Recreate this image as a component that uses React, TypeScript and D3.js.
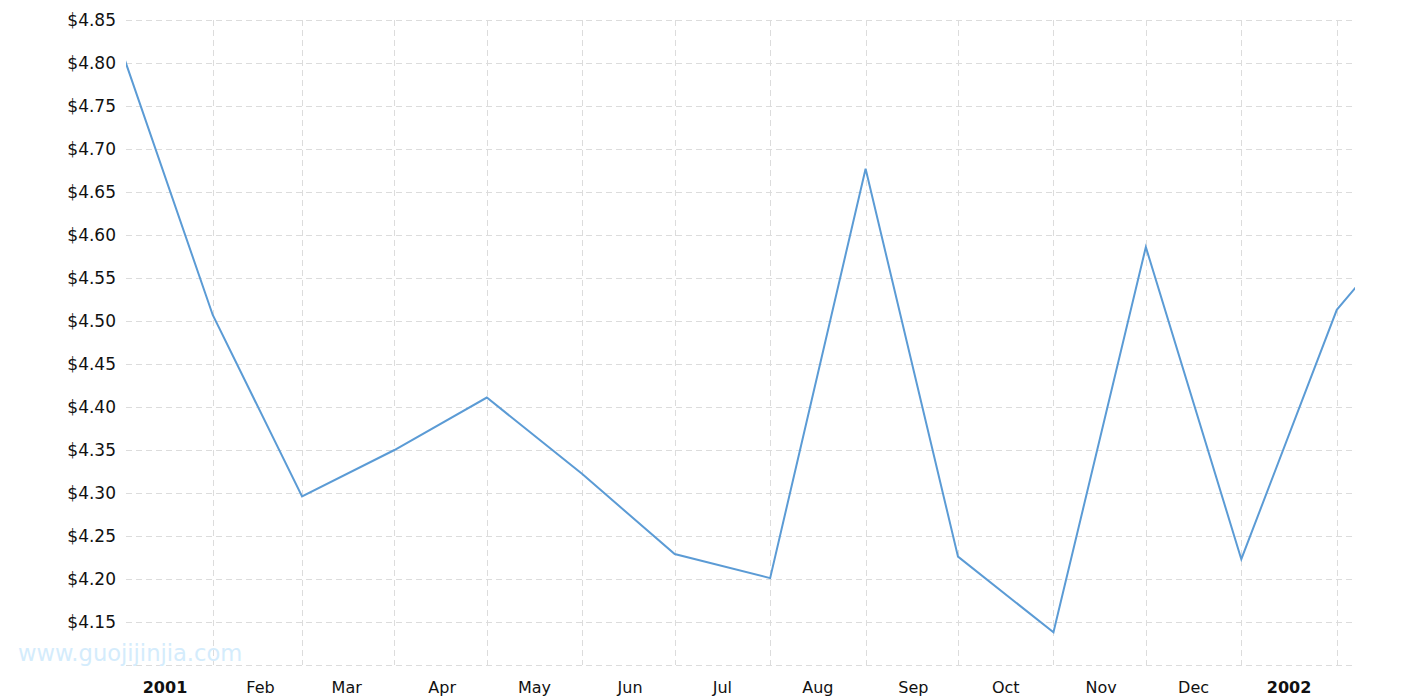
import React from "react";
import * as d3 from "d3";

// monthly prices, plotted at mid-month
const dates = [
  "2000-12-16 12", "2001-01-16 12", "2001-02-14 12", "2001-03-16 12", "2001-04-15 12",
  "2001-05-16 12", "2001-06-15 12", "2001-07-16 12", "2001-08-16 12", "2001-09-15 12",
  "2001-10-16 12", "2001-11-15 12", "2001-12-16 12", "2002-01-16 12", "2002-02-15 12",
];
const prices = [
  4.829, 4.507, 4.296, 4.35, 4.411, 4.322, 4.229, 4.201, 4.677, 4.226,
  4.138, 4.586, 4.223, 4.513, 4.64,
];
const yTicks = [4.1, 4.15, 4.2, 4.25, 4.3, 4.35, 4.4, 4.45, 4.5, 4.55, 4.6, 4.65, 4.7, 4.75, 4.8, 4.85];
const monthNames = ["", "Feb", "Mar", "Apr", "May", "Jun", "Jul", "Aug", "Sep", "Oct", "Nov", "Dec"];

const W = 1415;
const H = 700;
const margin = { left: 126, right: 60, top: 20, bottom: 35 };

export default function App() {
  const parse = d3.timeParse("%Y-%m-%d %H");
  const data = dates.map((d, i) => ({ date: parse(d) as Date, value: prices[i] }));

  const x = d3
    .scaleTime()
    .domain([new Date(2000, 11, 19, 8), new Date(2002, 0, 22, 10)])
    .range([margin.left, W - margin.right]);
  const y = d3
    .scaleLinear()
    .domain([4.1, 4.85])
    .range([H - margin.bottom, margin.top]);

  const line = d3
    .line<{ date: Date; value: number }>()
    .x((d) => x(d.date))
    .y((d) => y(d.value));

  const gridDates = data.map((d) => d.date).filter((d) => d >= x.domain()[0] && d <= x.domain()[1]);
  const monthTicks = d3.timeMonth.range(new Date(2001, 0, 1), new Date(2002, 0, 2));
  const fmt = d3.format("$.2f");
  const font = "'DejaVu Sans', Verdana, sans-serif";

  return (
    <svg
      width={W}
      height={H}
      style={{ position: "absolute", left: 0, top: 0, background: "#fff" }}
      fontFamily={font}
    >
      <defs>
        <clipPath id="plot-clip">
          <rect x={margin.left} y={0} width={W - margin.right - margin.left} height={H} />
        </clipPath>
      </defs>

      {/* horizontal grid */}
      {yTicks.map((t) => (
        <line
          key={"h" + t}
          x1={margin.left}
          x2={W - margin.right}
          y1={Math.round(y(t)) + 0.5}
          y2={Math.round(y(t)) + 0.5}
          stroke="#dcdcdc"
          strokeDasharray="6,4"
        />
      ))}
      {/* vertical grid */}
      {gridDates.map((d) => (
        <line
          key={"v" + d.getTime()}
          x1={Math.round(x(d)) + 0.5}
          x2={Math.round(x(d)) + 0.5}
          y1={y(4.85)}
          y2={y(4.1)}
          stroke="#dcdcdc"
          strokeDasharray="6,4"
        />
      ))}

      {/* y labels */}
      {yTicks
        .filter((t) => t > 4.1)
        .map((t) => (
          <text
            key={"yl" + t}
            x={margin.left - 10}
            y={y(t)}
            dy="0.36em"
            textAnchor="end"
            fontSize={17}
            fill="#111"
          >
            {fmt(t)}
          </text>
        ))}

      {/* x labels */}
      {monthTicks.map((d) => {
        const isYear = d.getMonth() === 0;
        return (
          <text
            key={"xl" + d.getTime()}
            x={x(d)}
            y={H - 7}
            textAnchor="middle"
            fontSize={16}
            fontWeight={isYear ? "bold" : "normal"}
            fill="#111"
          >
            {isYear ? d.getFullYear() : monthNames[d.getMonth()]}
          </text>
        );
      })}

      <text x={18} y={661} fontSize={22.6} fill="#d4ecfc" fontFamily={font}>
        www.guojijinjia.com
      </text>

      <path
        d={line(data) || ""}
        fill="none"
        stroke="#5b9bd5"
        strokeWidth={2}
        clipPath="url(#plot-clip)"
      />
    </svg>
  );
}
